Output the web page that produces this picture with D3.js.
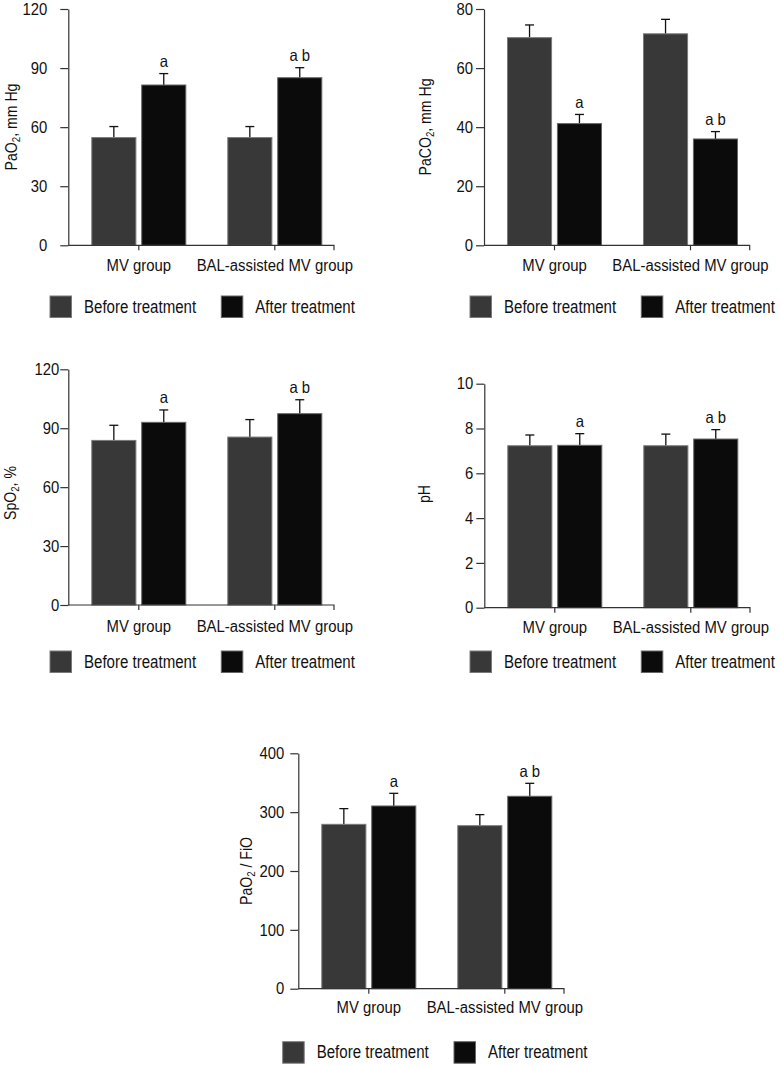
<!doctype html>
<html>
<head>
<meta charset="utf-8">
<title>Blood gas before / after treatment</title>
<style>
  body { margin:0; background:#fff; }
  svg { display:block; }
  text { font-family:"Liberation Sans","Arial",sans-serif; fill:#111; }
  .axis path, .axis line { stroke:#333; stroke-width:1.2px; fill:none; }
  .axis text { font-size:16.5px; }
  .cat { font-size:16px; }
  .ylab { font-size:16px; }
  .mark { font-size:16.5px; }
  .leg { font-size:17.5px; }
  .before { fill:#383838; stroke:#7a7a7a; stroke-width:1px; }
  .after { fill:#0b0b0b; stroke:#666; stroke-width:1px; }
  .err { stroke:#111; stroke-width:1.3px; }
</style>
<script src="https://cdn.jsdelivr.net/npm/d3@7"></script>
</head>
<body>
<svg id="chart" width="780" height="1065"></svg>
<script>

  // categories and series
  var groups = ["MV group", "BAL-assisted MV group"]
  var series = ["Before treatment", "After treatment"]
  var marks = ["a", "a b"]   // letters above the "after" bars

  // PaO2, mm Hg
  var pao2Before = [54.7, 54.7]
  var pao2BeforeSd = [5.6, 5.6]
  var pao2After = [81.4, 85.1]
  var pao2AfterSd = [5.8, 5.1]
  var pao2Ticks = [0, 30, 60, 90, 120]

  // PaCO2, mm Hg
  var paco2Before = [70.3, 71.6]
  var paco2BeforeSd = [4.3, 4.9]
  var paco2After = [41.2, 36.0]
  var paco2AfterSd = [3.1, 2.5]
  var paco2Ticks = [0, 20, 40, 60, 80]

  // SpO2, %
  var spo2Before = [83.8, 85.5]
  var spo2BeforeSd = [7.7, 8.9]
  var spo2After = [93.0, 97.4]
  var spo2AfterSd = [6.3, 7.1]
  var spo2Ticks = [0, 30, 60, 90, 120]

  // pH
  var phBefore = [7.23, 7.23]
  var phBeforeSd = [0.48, 0.52]
  var phAfter = [7.25, 7.53]
  var phAfterSd = [0.52, 0.42]
  var phTicks = [0, 2, 4, 6, 8, 10]

  // PaO2 / FiO
  var ratioBefore = [279.3, 277.0]
  var ratioBeforeSd = [26.7, 18.8]
  var ratioAfter = [310.5, 327.0]
  var ratioAfterSd = [21.5, 22.0]
  var ratioTicks = [0, 100, 200, 300, 400]

  // one entry per small chart: data + where it sits on the page
  var panels = [
    { before:pao2Before, beforeSd:pao2BeforeSd, after:pao2After, afterSd:pao2AfterSd, ticks:pao2Ticks,
      label:["PaO", "2", ", mm Hg"], x0:68.3, top:9, bottom:245.3, pad:13, labX:17, labY:127, catDy:25.4, legX:50, legY:296 },
    { before:paco2Before, beforeSd:paco2BeforeSd, after:paco2After, afterSd:paco2AfterSd, ticks:paco2Ticks,
      label:["PaCO", "2", ", mm Hg"], x0:484, top:9, bottom:245.3, pad:3, labX:431, labY:127, catDy:25.4, legX:470, legY:296 },
    { before:spo2Before, beforeSd:spo2BeforeSd, after:spo2After, afterSd:spo2AfterSd, ticks:spo2Ticks,
      label:["SpO", "2", ", %"], x0:68.3, top:369.3, bottom:605, pad:1, labX:16, labY:493, catDy:26.5, legX:50, legY:651 },
    { before:phBefore, beforeSd:phBeforeSd, after:phAfter, afterSd:phAfterSd, ticks:phTicks,
      label:["pH"], x0:484.3, top:383.7, bottom:607.7, pad:3, labX:430, labY:494, catDy:25.6, legX:470, legY:651 },
    { before:ratioBefore, beforeSd:ratioBeforeSd, after:ratioAfter, afterSd:ratioAfterSd, ticks:ratioTicks,
      label:["PaO", "2", " / FiO"], x0:298.3, top:753.3, bottom:988.7, pad:6, labX:252, labY:871, catDy:24.7, legX:282.7, legY:1041.7 }
  ]

  var svg = d3.select("#chart")
  var barW = 41.5, barGap = 11

  // the original uses a condensed face; squeeze the regular one sideways
  function squeeze(sel, f) {
    sel.each(function() {
      var L = this.getComputedTextLength()
      d3.select(this).attr("textLength", L * f).attr("lengthAdjust", "spacingAndGlyphs")
    })
  }

  panels.forEach(function(p) {
    var g = svg.append("g")

    var yMax = p.ticks[p.ticks.length - 1]
    var y = d3.scaleLinear().domain([0, yMax]).range([p.bottom, p.top])

    // group centres sit ~71 and 207 px right of the y axis
    var x = d3.scaleBand().domain(groups).range([p.x0 + 2.5, p.x0 + 2.5 + 2*136]).padding(0)
    var step = x.bandwidth()
    var inner = (step - 2*barW - barGap) / 2
    var xs = d3.scaleBand().domain(series)
               .range([inner, step - inner])
               .paddingInner(barGap / (barW + barGap/2) / 2)
               .paddingOuter(0)

    var rows = []
    groups.forEach(function(grp, i) {
      rows.push({ g:grp, s:series[0], v:p.before[i], sd:p.beforeSd[i], cls:"before", mark:"" })
      rows.push({ g:grp, s:series[1], v:p.after[i], sd:p.afterSd[i], cls:"after", mark:marks[i] })
    })

    function cx(d) { return x(d.g) + xs(d.s) + xs.bandwidth()/2 }

    // error bars (upper half only)
    g.selectAll("line.err").data(rows).enter()
      .append("line").attr("class", "err")
      .attr("x1", cx).attr("x2", cx)
      .attr("y1", function(d){ return y(d.v) })
      .attr("y2", function(d){ return y(d.v + d.sd) })
    g.selectAll("line.cap").data(rows).enter()
      .append("line").attr("class", "err")
      .attr("x1", function(d){ return cx(d) - 4.5 })
      .attr("x2", function(d){ return cx(d) + 4.5 })
      .attr("y1", function(d){ return y(d.v + d.sd) })
      .attr("y2", function(d){ return y(d.v + d.sd) })

    g.selectAll("rect").data(rows).enter()
      .append("rect")
      .attr("class", function(d){ return d.cls })
      .attr("x", function(d){ return x(d.g) + xs(d.s) })
      .attr("y", function(d){ return y(d.v) })
      .attr("width", xs.bandwidth())
      .attr("height", function(d){ return y(0) - y(d.v) })

    var mk = g.selectAll("text.mark").data(rows.filter(function(d){ return d.mark })).enter()
      .append("text").attr("class", "mark")
      .attr("text-anchor", "middle")
      .attr("x", cx)
      .attr("y", function(d){ return y(d.v + d.sd) - 6.5 })
      .text(function(d){ return d.mark })
    squeeze(mk, 0.9)

    // y axis
    var ya = g.append("g").attr("class", "axis")
      .attr("transform", "translate(" + p.x0 + ",0)")
      .call(d3.axisLeft(y).tickValues(p.ticks).tickSize(8).tickSizeOuter(0).tickPadding(p.pad))
    squeeze(ya.selectAll("text"), 0.9)

    // x axis: ticks from the band scale, line drawn to the end tick
    var xa = g.append("g").attr("class", "axis")
      .attr("transform", "translate(0," + p.bottom + ")")
      .call(d3.axisBottom(x).tickSize(5).tickSizeOuter(0).tickFormat(""))
    xa.select(".domain").attr("d", "M" + p.x0 + ",0H" + (p.x0 + 265.7) + "V5")

    var cat = g.selectAll("text.cat").data(groups).enter()
      .append("text").attr("class", "cat")
      .attr("text-anchor", "middle")
      .attr("x", function(d){ return x(d) + step/2 })
      .attr("y", p.bottom + p.catDy)
      .text(function(d){ return d })
    squeeze(cat, 0.93)

    // rotated y label with subscript
    var lab = g.append("text").attr("class", "ylab")
      .attr("text-anchor", "middle")
      .attr("transform", "translate(" + p.labX + "," + p.labY + ") rotate(-90)")
    lab.append("tspan").text(p.label[0])
    if (p.label.length > 1) {
      lab.append("tspan").attr("font-size", "11px").attr("dy", 3).text(p.label[1])
      lab.append("tspan").attr("dy", -3).text(p.label[2])
    }
    squeeze(lab, 0.88)

    // legend
    var leg = g.selectAll("g.leg").data(series).enter()
      .append("g")
      .attr("transform", function(d, i){ return "translate(" + (p.legX + i*171.3) + "," + p.legY + ")" })
    leg.append("rect")
      .attr("class", function(d, i){ return i == 0 ? "before" : "after" })
      .attr("width", 21.5).attr("height", 21.5)
    var lt = leg.append("text").attr("class", "leg")
      .attr("x", 34).attr("y", 16.6)
      .text(function(d){ return d })
    squeeze(lt, 0.86)
  })

</script>
</body>
</html>
